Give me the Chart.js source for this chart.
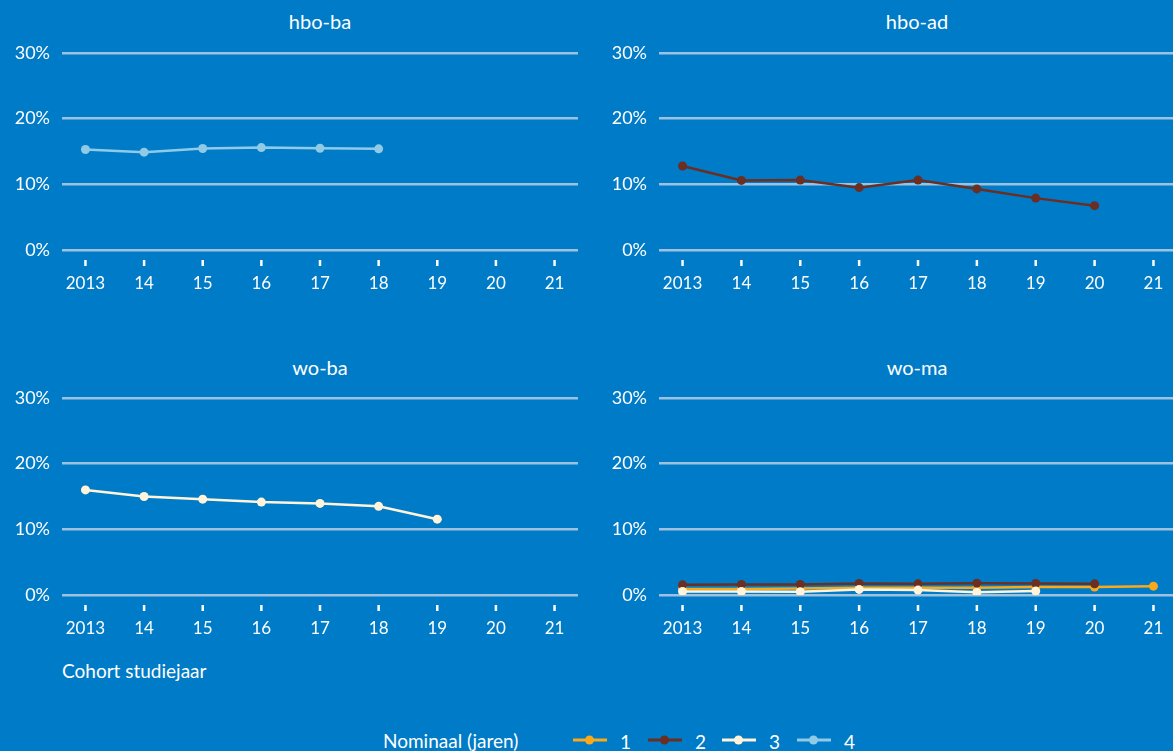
<!DOCTYPE html>
<html>
<head>
<meta charset="utf-8">
<script src="https://cdn.jsdelivr.net/npm/chart.js@4"></script>
<style>
  html, body { margin: 0; padding: 0; }
  body {
    width: 1173px; height: 751px; overflow: hidden; position: relative;
    background: #007BC7; font-family: Lato, "Noto Sans", sans-serif; color: #fff;
  }
  .panel { position: absolute; width: 600px; height: 300px; }
  .title { position: absolute; font-size: 20px; transform: translate(-50%, -50%); white-space: nowrap; }
  .txt { position: absolute; font-size: 19px; transform: translateY(-50%); white-space: nowrap; }
  .key { position: absolute; width: 34px; height: 3px; transform: translateY(-50%); }
  .key i { position: absolute; left: 12px; top: -3px; width: 9px; height: 9px; border-radius: 50%; background: inherit; }
</style>
</head>
<body>
<div class="title" style="left:320px; top:21px">hbo-ba</div>
<div class="title" style="left:917px; top:21px">hbo-ad</div>
<div class="title" style="left:320px; top:367px">wo-ba</div>
<div class="title" style="left:917px; top:367px">wo-ma</div>

<div class="panel" style="left:0; top:0"><canvas id="c0"></canvas></div>
<div class="panel" style="left:600px; top:0"><canvas id="c1"></canvas></div>
<div class="panel" style="left:0; top:345px"><canvas id="c2"></canvas></div>
<div class="panel" style="left:600px; top:345px"><canvas id="c3"></canvas></div>

<div class="txt" style="left:62px; top:670px">Cohort studiejaar</div>
<div id="legend"></div>

<script>
const years = ['2013', '14', '15', '16', '17', '18', '19', '20', '21'];
const yTicks = [0, 10, 20, 30];
const seriesNames = ['1', '2', '3', '4'];
const seriesColors = ['#F9A919', '#6A2E22', '#FFF4DA', '#8FCAE7'];

// percentages per cohort year, null = no data
const hboBa4 = [15.3, 14.9, 15.45, 15.6, 15.5, 15.4, null, null, null];
const hboAd2 = [12.8, 10.6, 10.65, 9.5, 10.65, 9.3, 7.9, 6.75, null];
const woBa3 = [16.0, 15.0, 14.6, 14.15, 13.95, 13.5, 11.55, null, null];
const woMa1 = [0.9, 0.9, 1.0, 1.1, 1.1, 1.1, 1.2, 1.2, 1.35];
const woMa2 = [1.55, 1.6, 1.6, 1.75, 1.7, 1.8, 1.75, 1.7, null];
const woMa3 = [0.55, 0.55, 0.5, 0.85, 0.75, 0.4, 0.6, null, null];

const gridColor = '#9CC2E0';
const fontFamily = 'Lato, "Noto Sans", sans-serif';

function toPoints(values) {
    return values.map((v, i) => ({ x: i, y: v }));
}

function makeSet(values, idx, order) {
    return {
        label: seriesNames[idx],
        data: toPoints(values),
        borderColor: seriesColors[idx],
        backgroundColor: seriesColors[idx],
        borderWidth: 2.5,
        pointRadius: 4.5,
        pointHoverRadius: 4.5,
        pointBorderWidth: 0,
        spanGaps: false,
        order: order
    };
}

// little white tick marks under the 0% line
const tickMarks = {
    id: 'tickMarks',
    afterDraw(chart) {
        const ctx = chart.ctx;
        const xs = chart.scales.x;
        const bottom = chart.chartArea.bottom;
        ctx.save();
        ctx.strokeStyle = '#fff';
        ctx.lineWidth = 2.5;
        years.forEach((y, i) => {
            const px = xs.getPixelForValue(i);
            ctx.beginPath();
            ctx.moveTo(px, bottom + 10);
            ctx.lineTo(px, bottom + 16);
            ctx.stroke();
        });
        ctx.restore();
    }
};

function createPanel(id, datasets, axisWidth, padRight) {
    const ctx = document.getElementById(id).getContext('2d');
    return new Chart(ctx, {
        type: 'line',
        data: { datasets: datasets },
        options: {
            responsive: true,
            maintainAspectRatio: false,
            animation: false,
            events: [],
            layout: { padding: { top: 53, right: padRight, left: 0, bottom: 0 } },
            plugins: { legend: { display: false }, tooltip: { enabled: false } },
            scales: {
                x: {
                    type: 'linear',
                    min: -0.4,
                    max: 8.4,
                    afterBuildTicks: s => { s.ticks = years.map((y, i) => ({ value: i })); },
                    afterFit: s => { s.height = 50; },
                    grid: { display: false, drawTicks: false },
                    border: { display: false },
                    ticks: {
                        color: '#fff',
                        padding: 23,
                        autoSkip: false,
                        maxRotation: 0,
                        font: { family: fontFamily, size: 17 },
                        callback: v => years[v]
                    }
                },
                y: {
                    min: 0,
                    max: 30,
                    afterBuildTicks: s => { s.ticks = yTicks.map(v => ({ value: v })); },
                    afterFit: s => { s.width = axisWidth; },
                    grid: { color: gridColor, lineWidth: 2.5, drawTicks: false },
                    border: { display: false },
                    ticks: {
                        color: '#fff',
                        padding: 12,
                        font: { family: fontFamily, size: 18 },
                        callback: v => v + '%'
                    }
                }
            }
        },
        plugins: [tickMarks]
    });
}

createPanel('c0', [makeSet(hboBa4, 3, 1)], 62, 22);
createPanel('c1', [makeSet(hboAd2, 1, 1)], 59, 23);
createPanel('c2', [makeSet(woBa3, 2, 1)], 62, 22);
createPanel('c3', [
    makeSet(woMa3, 2, 1),
    makeSet(woMa2, 1, 2),
    makeSet(woMa1, 0, 3)
], 59, 23);

// legend row
const legend = document.getElementById('legend');
const legendLeft = [573, 648, 722, 797];
let html = '<div class="txt" style="left:383px; top:740px">Nominaal (jaren)</div>';
seriesNames.forEach((name, i) => {
    html += '<div class="key" style="left:' + legendLeft[i] + 'px; top:740px; background:' + seriesColors[i] + '"><i></i></div>';
    html += '<div class="txt" style="left:' + (legendLeft[i] + 47) + 'px; top:741px">' + name + '</div>';
});
legend.innerHTML = html;
</script>
</body>
</html>
